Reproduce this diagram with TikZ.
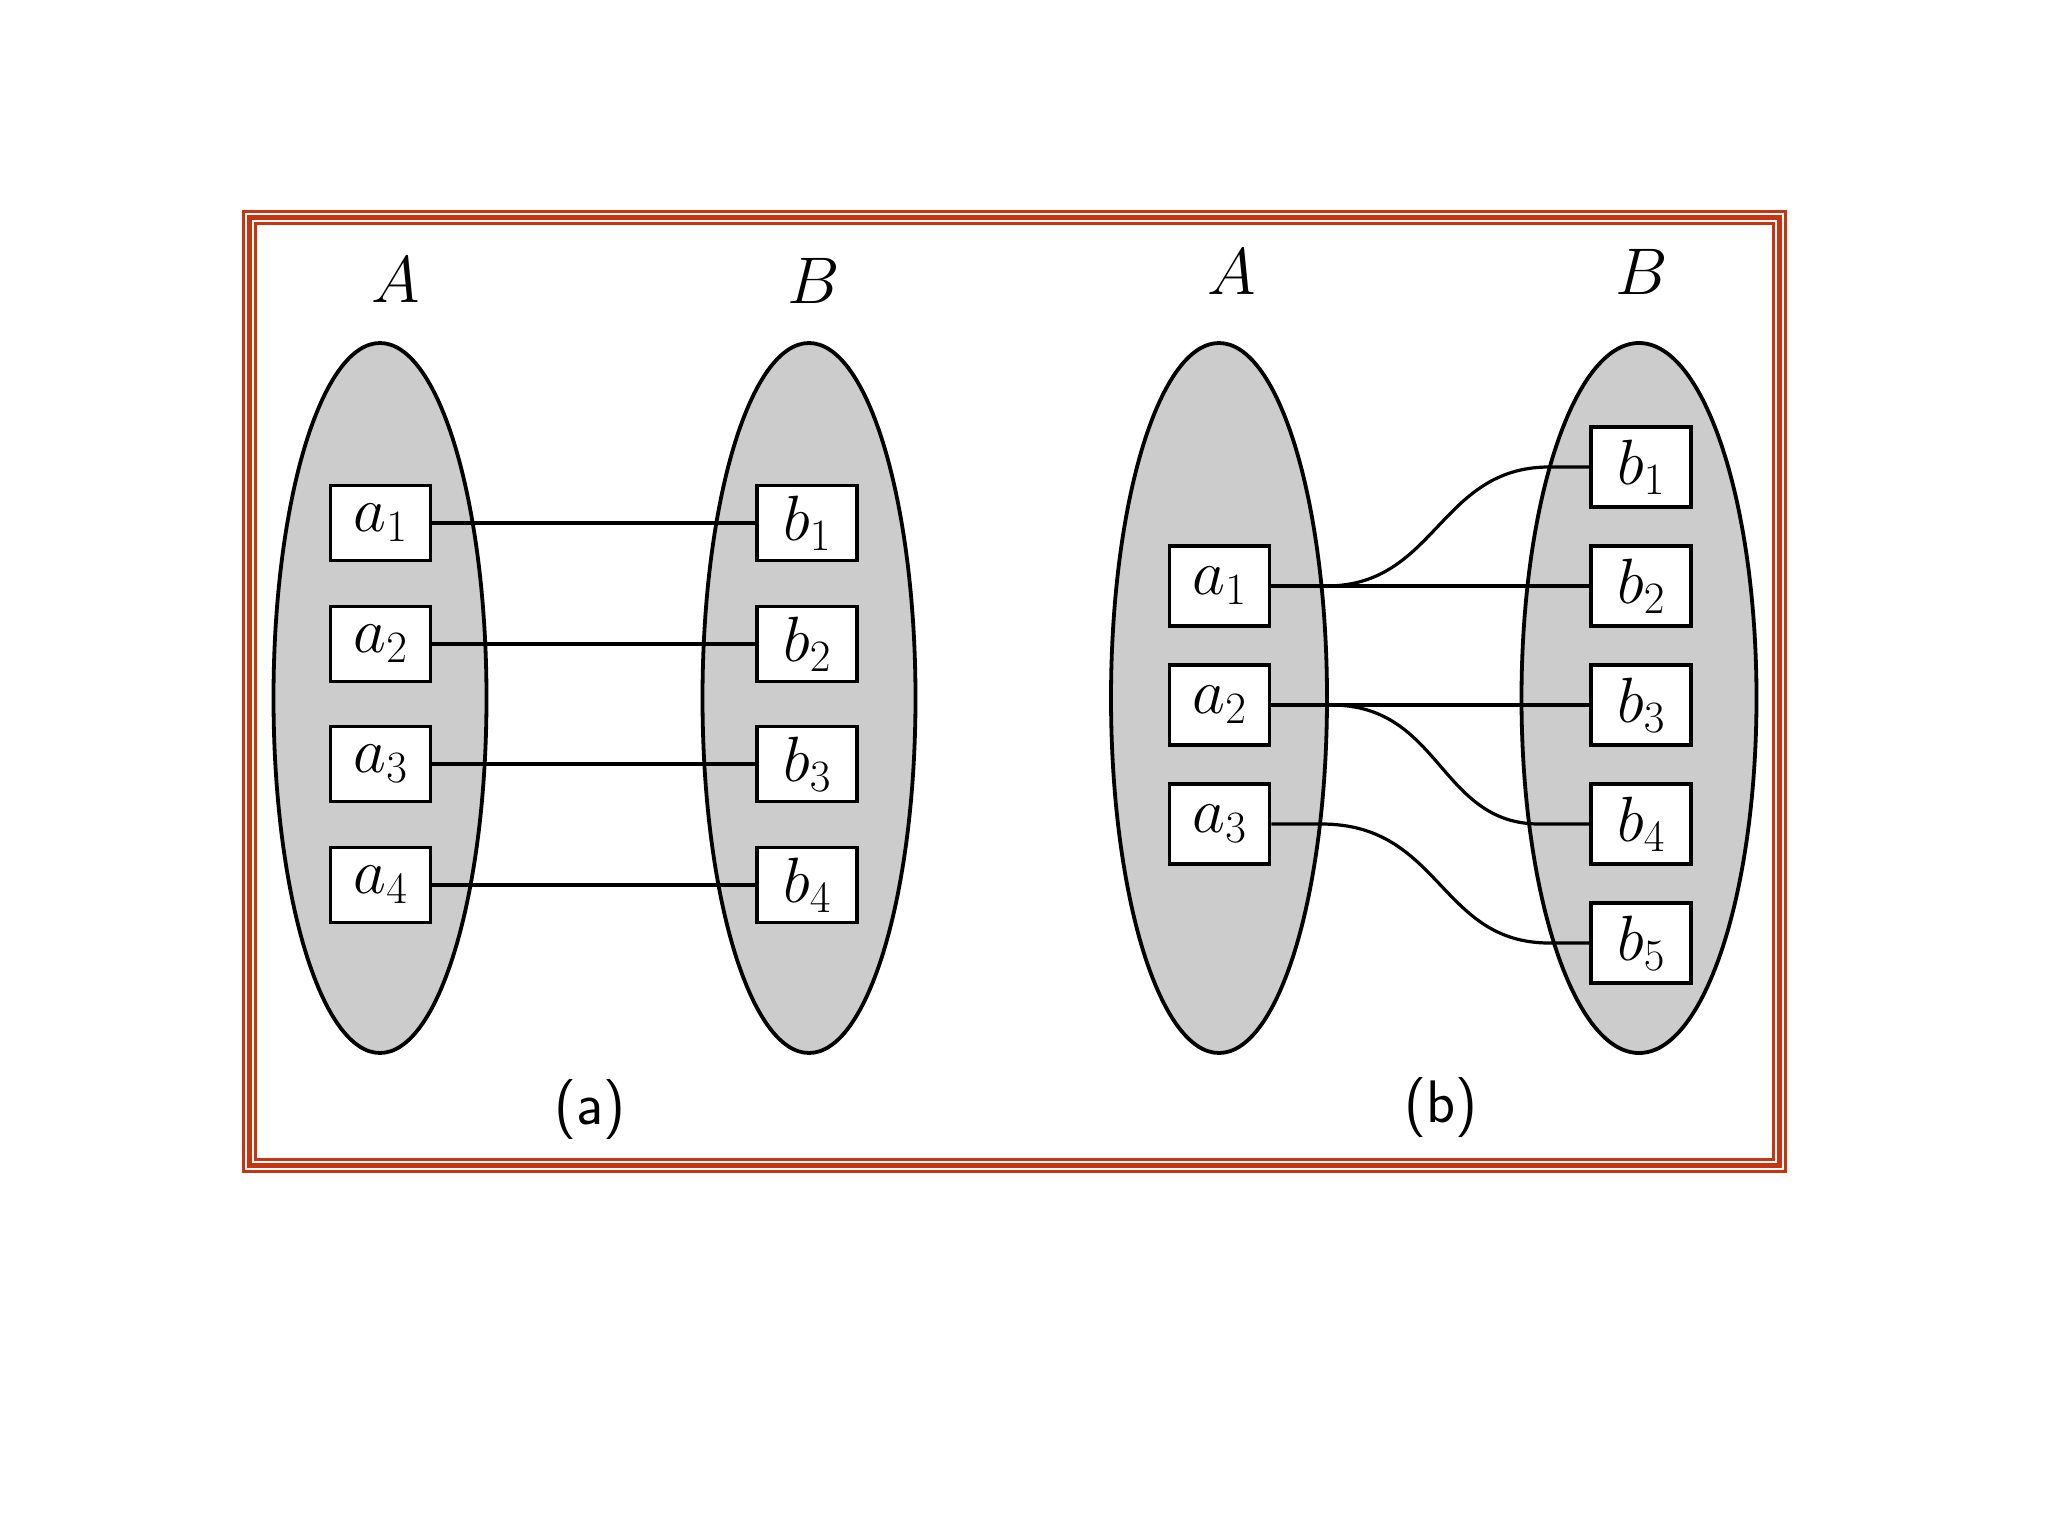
\RequirePackage{fix-cm}
\documentclass[tikz,border=0pt]{standalone}
\usetikzlibrary{calc}
\definecolor{framered}{RGB}{200,52,16}
\begin{document}
\begin{tikzpicture}[x=1pt,y=-1pt,
  setell/.style={draw=black, fill=black!20, line width=3.8pt},
  elem/.style={draw=black, fill=white, line width=3.6pt, minimum width=100pt, minimum height=75pt, inner sep=0pt, font=\fontsize{64}{70}\selectfont},
  elemb/.style={elem, minimum height=80pt},
  link/.style={line width=3.2pt},
  setlabel/.style={font=\fontsize{66}{70}\selectfont, inner sep=0pt},
  caption/.style={font=\sffamily\fontsize{60}{66}\selectfont, inner sep=0pt}]
\useasboundingbox (0,0) rectangle (2048,1536);
\fill[white] (0,0) rectangle (2048,1536);
% frame
\draw[framered, line width=3pt] (243.5,211.5) rectangle (1785.5,1171.5);
\draw[framered, line width=5.5pt] (249.5,217.5) rectangle (1779.5,1165.5);
\draw[framered, line width=3pt] (255.5,223.5) rectangle (1773.5,1159.5);
% panel (a)
\draw[setell] (380,698) ellipse [x radius=106.5, y radius=355];
\draw[setell] (809,698) ellipse [x radius=106.5, y radius=355];
\node[setlabel] (la) at (396,280) {$A$};
\node[setlabel] (lb) at (814,281) {$B$};
\node[elem] (pa1) at (380.5,523) {$a_1$};
\node[elem] (pa2) at (380.5,644) {$a_2$};
\node[elem] (pa3) at (380.5,764) {$a_3$};
\node[elem] (pa4) at (380.5,885) {$a_4$};
\node[elem] (pb1) at (807,523) {$b_1$};
\node[elem] (pb2) at (807,644) {$b_2$};
\node[elem] (pb3) at (807,764) {$b_3$};
\node[elem] (pb4) at (807,885) {$b_4$};
\draw[link] (pa1.east) -- (pb1.west);
\draw[link] (pa2.east) -- (pb2.west);
\draw[link] (pa3.east) -- (pb3.west);
\draw[link] (pa4.east) -- (pb4.west);
\node[caption] (capa) at (590,1110) {(a)};
% panel (b)
\draw[setell] (1219,698) ellipse [x radius=108, y radius=355];
\draw[setell] (1639,698) ellipse [x radius=117.5, y radius=355];
\node[setlabel] (la2) at (1232,272) {$A$};
\node[setlabel] (lb2) at (1642,272) {$B$};
\node[elemb] (qa1) at (1219.5,586) {$a_1$};
\node[elemb] (qa2) at (1219.5,705) {$a_2$};
\node[elemb] (qa3) at (1219.5,824) {$a_3$};
\node[elemb] (qb1) at (1641,467) {$b_1$};
\node[elemb] (qb2) at (1641,586) {$b_2$};
\node[elemb] (qb3) at (1641,705) {$b_3$};
\node[elemb] (qb4) at (1641,824) {$b_4$};
\node[elemb] (qb5) at (1641,943) {$b_5$};
\draw[link] (qa1.east) -- (qb2.west);
\draw[link] (qa2.east) -- (qb3.west);
\draw[link] (qa1.east) -- ++(55,0) .. controls +(110,0) and ($(qb1.west)+(-150,0)$) .. ($(qb1.west)+(-40,0)$) -- (qb1.west);
\draw[link] (qa2.east) -- ++(60,0) .. controls +(110,0) and ($(qb4.west)+(-150,0)$) .. ($(qb4.west)+(-50,0)$) -- (qb4.west);
\draw[link] (qa3.east) -- ++(50,0) .. controls +(120,0) and ($(qb5.west)+(-150,0)$) .. ($(qb5.west)+(-40,0)$) -- (qb5.west);
\node[caption] (capb) at (1441,1108) {(b)};
\end{tikzpicture}
\end{document}
